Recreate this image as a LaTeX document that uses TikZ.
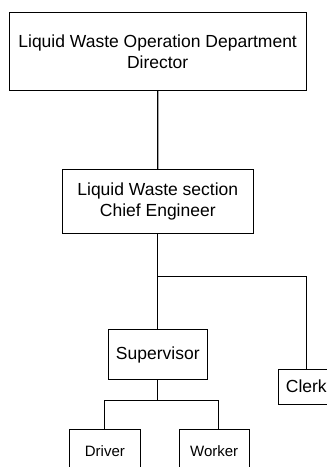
\documentclass[tikz,border=0pt]{standalone}
\usepackage{fontspec}
\setmainfont{Liberation Sans}
\begin{document}
\begin{tikzpicture}[x=1pt,y=-1pt,
  box/.style={draw, line width=1pt, inner sep=0pt, align=center, font=\fontsize{17.5}{20.5}\selectfont},
  smallbox/.style={box, font=\fontsize{15}{18}\selectfont},
  conn/.style={line width=1.2pt}]
\useasboundingbox (0,0) rectangle (327,467);
\node[box, minimum width=296.7pt, minimum height=78.4pt] (dir) at (157.65,51.5) {Liquid Waste Operation Department\\Director};
\node[box, minimum width=191pt, minimum height=64pt] (chief) at (157.8,201.3) {Liquid Waste section\\Chief Engineer};
\node[box, minimum width=99pt, minimum height=50.4pt] (sup) at (157.8,354.5) {Supervisor};
\node[box, minimum width=56.6pt, minimum height=35pt] (clerk) at (306.3,386.5) {Clerk};
\node[smallbox, minimum width=70.3pt, minimum height=42.8pt] (drv) at (104.85,450.7) {Driver};
\node[smallbox, minimum width=70.3pt, minimum height=42.8pt] (wrk) at (214.15,450.7) {Worker};
\draw[conn] (dir.south) -- (chief.north);
\draw[conn] (chief.south) -- (sup.north);
\coordinate (b1) at (157.8,276.3);
\draw[conn] (b1) -| (clerk.north);
\coordinate (b2) at (157.8,400.7);
\draw[conn] (sup.south) -- (b2);
\coordinate (wj) at (218.3,400.7);
\draw[conn] (drv.north) |- (wj) -- (wj |- wrk.north);
\end{tikzpicture}
\end{document}
